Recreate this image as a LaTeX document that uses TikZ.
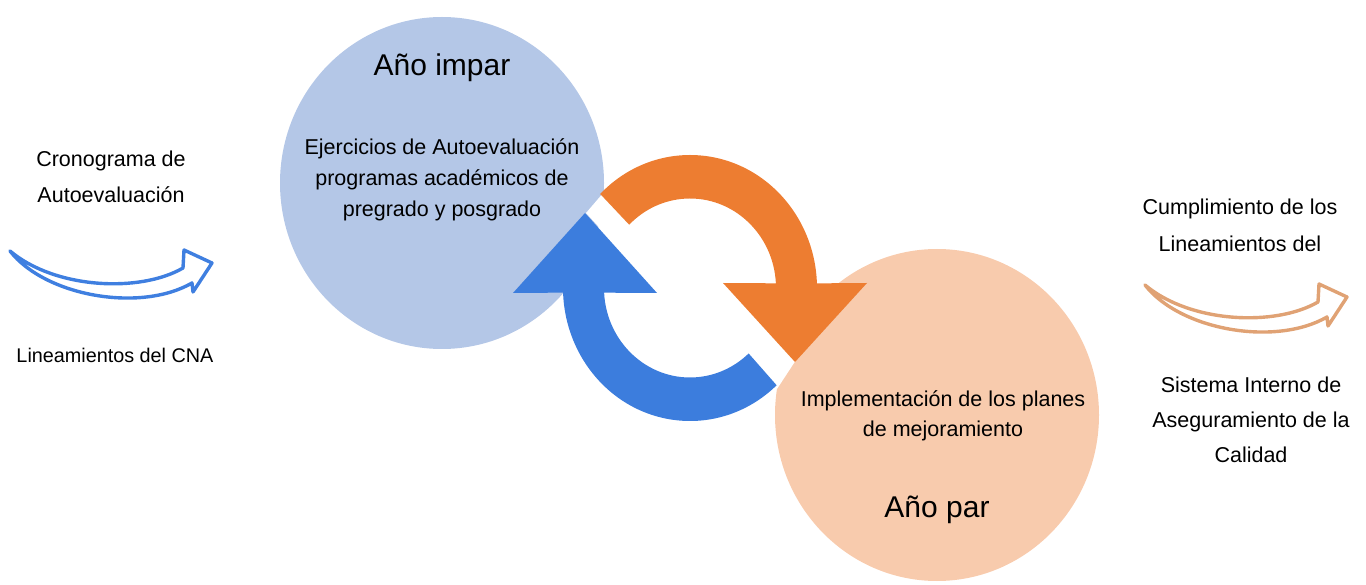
\documentclass[tikz,border=0pt]{standalone}
\usepackage{fontspec}
\setmainfont{Liberation Sans}
\usepackage{tikz}
\usetikzlibrary{positioning,calc}
\definecolor{circblue}{HTML}{B4C7E7}
\definecolor{circpeach}{HTML}{F8CBAD}
\definecolor{cycorange}{HTML}{ED7D31}
\definecolor{cycblue}{HTML}{3C7DDD}
\definecolor{sketchblue}{HTML}{3F7FE0}
\definecolor{sketchtan}{HTML}{E0A274}

\tikzset{
  label/.style={inner sep=0pt, align=center, font=\fontsize{10.75}{18}\selectfont},
  year/.style={inner sep=0pt, anchor=base, font=\fontsize{15}{18}\selectfont},
  sketch arrow/.pic={
    \draw[line width=1.7pt, line cap=round, line join=round]
      (0,0) .. controls (45,-38) and (130,-42) .. (173,-17)
      -- (174,1) -- (202,-12) -- (183,-41) -- (182,-32)
      .. controls (130,-62) and (35,-45) .. (0,0);
  }
}

\begin{document}
\begin{tikzpicture}[x=0.5pt,y=0.5pt]
  \useasboundingbox (0,0) rectangle (1366,584);
  % circles
  \fill[circblue] (442,401) ellipse [x radius=162, y radius=166];
  \fill[circpeach] (937,169) ellipse [x radius=162, y radius=166];
  % gaps between the cycle arrows
  \fill[white] (604,392) -- (586,371) -- (620,334) -- (650,369) -- cycle;
  \fill[white] (796,224) -- (777,195) -- (750,214) -- (770,254) -- cycle;
  % cycle arrows
  \coordinate (cyc) at (690,296);
  \fill[cycorange] (cyc) ++(135:127 and 133)
    arc[start angle=135, end angle=2, x radius=127, y radius=133]
    -- ($(cyc)+(177,5)$) -- ($(cyc)+(105,-74)$) -- ($(cyc)+(33,5)$)
    -- ($(cyc)+(3:86 and 89.5)$)
    arc[start angle=3, end angle=135, x radius=86, y radius=89.5] -- cycle;
  \fill[cycblue] (cyc) ++(-47:127 and 133)
    arc[start angle=-47, end angle=-178, x radius=127, y radius=133]
    -- ($(cyc)+(-177,-5)$) -- ($(cyc)+(-105,75)$) -- ($(cyc)+(-33,-5)$)
    -- ($(cyc)+(-177:86 and 89.5)$)
    arc[start angle=-177, end angle=-47, x radius=86, y radius=89.5] -- cycle;
  % texts in the circles
  \node[year] (impar) at (442,508) {Año impar};
  \node[label, font=\fontsize{10.75}{15.5}\selectfont] (ejercicios) at (442,404)
    {Ejercicios de Autoevaluación\\programas académicos de\\pregrado y posgrado};
  \node[label, font=\fontsize{10.75}{15}\selectfont] (planes) at (943,168)
    {Implementación de los planes\\de mejoramiento};
  \node[year] (par) at (937,67) {Año par};
  % left side
  \node[label] (crono) at (111,407) {Cronograma de\\Autoevaluación};
  \pic[sketchblue] (entrada) at (10,333) {sketch arrow};
  \node[label, anchor=base, font=\fontsize{9.9}{18}\selectfont] (cna) at (115,221)
    {Lineamientos del CNA};
  % right side
  \node[label, font=\fontsize{10.75}{18.5}\selectfont] (cumpl) at (1240,358.5)
    {Cumplimiento de los\\Lineamientos del};
  \pic[sketchtan] (salida) at (1145,299) {sketch arrow};
  \node[label, font=\fontsize{10.75}{17.5}\selectfont] (sistema) at (1251,164)
    {Sistema Interno de\\Aseguramiento de la\\Calidad};
\end{tikzpicture}
\end{document}
